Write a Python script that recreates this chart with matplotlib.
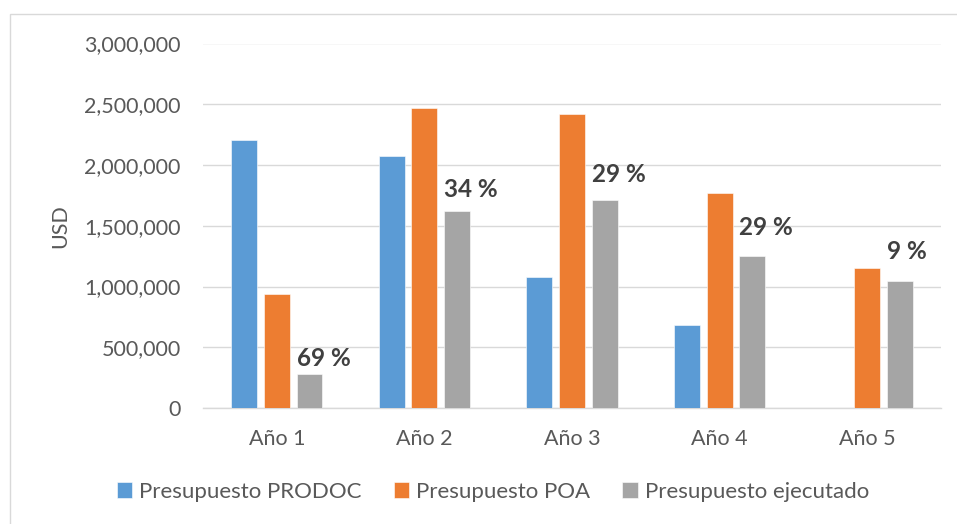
import matplotlib
matplotlib.use("Agg")
import matplotlib.pyplot as plt
import numpy as np
from matplotlib.patches import Rectangle
from matplotlib.ticker import FuncFormatter

plt.rcParams['font.family'] = ['Lato', 'DejaVu Sans']

# Data
years = ["Año 1", "Año 2", "Año 3", "Año 4", "Año 5"]
prodoc = [2205000, 2070000, 1078000, 680000, 0]
poa = [935000, 2470000, 2418000, 1766000, 1152000]
ejecutado = [280000, 1623000, 1711000, 1253000, 1042000]
pct_labels = ["69 %", "34 %", "29 %", "29 %", "9 %"]
series_names = ["Presupuesto PRODOC", "Presupuesto POA", "Presupuesto ejecutado"]

colors = ["#5B9BD5", "#ED7D31", "#A5A5A5"]
text_gray = "#595959"
grid_gray = "#D9D9D9"

# vertical gap (points) between each executed bar and its percentage label
label_gaps = [3, 7, 10, 12, 13]

fig = plt.figure(figsize=(9.57, 5.24), dpi=100)

# chart-area frame
fig.patches.append(Rectangle((10 / 957, -0.1), 1.2, 0.1 + 1 - 14 / 524,
                             transform=fig.transFigure, fill=False,
                             edgecolor=grid_gray, linewidth=1.0))

ax = fig.add_axes([203 / 957, 1 - 408 / 524, (941 - 203) / 957, (408 - 43.5) / 524])

x = np.arange(len(years))
step = 0.2215
width = 0.176
series = [prodoc, poa, ejecutado]
bars = []
for i, (vals, c, name) in enumerate(zip(series, colors, series_names)):
    b = ax.bar(x + (i - 1) * step, vals, width, color=c, label=name,
               edgecolor="white", linewidth=0.4, zorder=3)
    bars.append(b)

for rect, txt, gap in zip(bars[2], pct_labels, label_gaps):
    ax.annotate(txt, (rect.get_x(), rect.get_height()),
                xytext=(0, gap), textcoords="offset points",
                ha="left", va="bottom", fontsize=17.5, fontweight="bold",
                color="#404040", zorder=4)

ax.set_xlim(-0.5, len(years) - 0.5)
ax.set_ylim(0, 3000000)
ax.set_yticks(np.arange(0, 3000001, 500000))
ax.yaxis.set_major_formatter(FuncFormatter(lambda v, p: f"{int(v):,}"))
ax.set_xticks(x)
ax.set_xticklabels(years)
ax.grid(axis="y", color=grid_gray, linewidth=1.0, zorder=0)
for s in ["top", "right", "left"]:
    ax.spines[s].set_visible(False)
ax.spines["bottom"].set_color(grid_gray)
ax.spines["bottom"].set_linewidth(1.0)
ax.tick_params(axis="both", length=0, labelsize=15.5, colors=text_gray)
ax.tick_params(axis="y", pad=16)
ax.tick_params(axis="x", pad=15)
ax.set_ylabel("USD", fontsize=15.5, color=text_gray, labelpad=10)

leg = fig.legend(loc="center", bbox_to_anchor=(0.515, 1 - 492 / 524), ncol=3,
                 frameon=False, fontsize=16, handlelength=0.7, handleheight=0.7,
                 handletextpad=0.3, columnspacing=1.45)
for t in leg.get_texts():
    t.set_color(text_gray)

fig.savefig("out.png", dpi=100)
